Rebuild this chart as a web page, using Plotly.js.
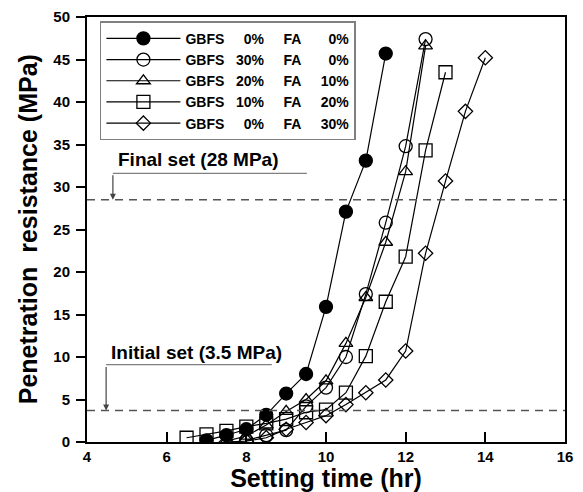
<!DOCTYPE html>
<html>
<head>
<meta charset="utf-8">
<script src="https://cdn.plot.ly/plotly-3.0.1.min.js"></script>
<style>html,body{margin:0;padding:0;background:#fff;}#chart{width:583px;height:492px;}</style>
</head>
<body>
<div id="chart"></div>
<script>
// ---- data ----
var NB = '\u00a0';
var seriesNames = [
  'GBFS' + NB+NB+NB+NB+NB + '0%' + NB+NB+NB+NB+NB + 'FA' + NB+NB+NB+NB+NB+NB+NB + '0%',
  'GBFS' + NB+NB+NB + '30%' + NB+NB+NB+NB+NB + 'FA' + NB+NB+NB+NB+NB+NB+NB + '0%',
  'GBFS' + NB+NB+NB + '20%' + NB+NB+NB+NB+NB + 'FA' + NB+NB+NB+NB+NB + '10%',
  'GBFS' + NB+NB+NB + '10%' + NB+NB+NB+NB+NB + 'FA' + NB+NB+NB+NB+NB + '20%',
  'GBFS' + NB+NB+NB+NB+NB + '0%' + NB+NB+NB+NB+NB + 'FA' + NB+NB+NB+NB+NB + '30%'
];
var x1 = [7, 7.5, 8, 8.5, 9, 9.5, 10, 10.5, 11, 11.5];
var y1 = [0.2, 0.8, 1.5, 3.2, 5.7, 8.0, 15.9, 27.1, 33.1, 45.7];
var x2 = [8, 8.5, 9, 9.5, 10, 10.5, 11, 11.5, 12, 12.5];
var y2 = [0.2, 0.8, 1.4, 4.2, 6.4, 10.0, 17.4, 25.8, 34.8, 47.4];
var x3 = [7.5, 8, 8.5, 9, 9.5, 10, 10.5, 11, 11.5, 12, 12.5];
var y3 = [0.1, 0.7, 2.0, 3.6, 5.0, 7.2, 11.6, 17.0, 23.5, 31.8, 46.6];
var x4 = [6.5, 7, 7.5, 8, 8.5, 9, 9.5, 10, 10.5, 11, 11.5, 12, 12.5, 13];
var y4 = [0.5, 0.9, 1.3, 1.8, 2.2, 2.7, 3.5, 3.8, 5.8, 10.1, 16.5, 21.8, 34.3, 43.5];
var x5 = [7.5, 8, 8.5, 9, 9.5, 10, 10.5, 11, 11.5, 12, 12.5, 13, 13.5, 14];
var y5 = [0.0, 0.1, 0.5, 1.5, 2.3, 3.1, 4.4, 5.8, 7.3, 10.7, 22.2, 30.7, 38.9, 45.2];
var finalSet = 28.5;
var initialSet = 3.7;
var xTicks = [4, 6, 8, 10, 12, 14, 16];
var yTicks = [0, 5, 10, 15, 20, 25, 30, 35, 40, 45, 50];

var FONT = 'Liberation Sans, Arial, Helvetica, sans-serif';
var xs = [x1, x2, x3, x4, x5];
var ys = [y1, y2, y3, y4, y5];
var symbols = ['circle', 'circle-open', 'triangle-up-open', 'square-open', 'diamond-open'];
var sizes = [13, 13, 12, 13, 11];

var traces = xs.map(function (xv, i) {
  return {
    x: xv, y: ys[i], type: 'scatter', mode: 'lines+markers', name: seriesNames[i],
    line: {color: '#000', width: 1.2},
    marker: {symbol: symbols[i], size: sizes[i], color: '#000', line: {color: '#000', width: 1.3}}
  };
});

var grey = '#808080';
var layout = {
  width: 583, height: 492,
  margin: {l: 87, r: 18, t: 17, b: 50},
  paper_bgcolor: '#fff', plot_bgcolor: '#fff',
  font: {family: FONT, color: '#000'},
  showlegend: true,
  legend: {
    x: 0.027, y: 0.99, xanchor: 'left', yanchor: 'top',
    bgcolor: '#fff', bordercolor: grey, borderwidth: 1.5,
    font: {family: FONT, size: 14, weight: 'bold', color: '#000'},
    itemwidth: 74, tracegroupgap: 0
  },
  xaxis: {
    range: [4, 16], tickvals: xTicks, ticktext: xTicks.map(String),
    ticks: 'inside', ticklen: 10, tickwidth: 2, tickcolor: '#000',
    showline: true, linecolor: '#000', linewidth: 2, mirror: true,
    showgrid: false, zeroline: false,
    tickfont: {family: FONT, size: 15, weight: 'bold'},
    title: {text: 'Setting time (hr)', font: {family: FONT, size: 25, weight: 'bold'}, standoff: 4}
  },
  yaxis: {
    range: [0, 50], tickvals: yTicks, ticktext: yTicks.map(String),
    ticks: 'outside', ticklen: 9, tickwidth: 2, tickcolor: '#000',
    showline: true, linecolor: '#000', linewidth: 2, mirror: true,
    showgrid: false, zeroline: false,
    tickfont: {family: FONT, size: 15, weight: 'bold'},
    ticklabelstandoff: 3
  },
  shapes: [
    {type: 'line', xref: 'paper', x0: 0, x1: 1, yref: 'y', y0: finalSet, y1: finalSet,
     line: {color: '#555', width: 1.6, dash: '8px,6px'}},
    {type: 'line', xref: 'paper', x0: 0, x1: 1, yref: 'y', y0: initialSet, y1: initialSet,
     line: {color: '#555', width: 1.6, dash: '8px,6px'}},
    {type: 'line', xref: 'x', yref: 'y', x0: 4.65, x1: 9.52, y0: 31.6, y1: 31.6,
     line: {color: grey, width: 1.2}},
    {type: 'line', xref: 'x', yref: 'y', x0: 4.48, x1: 8.64, y0: 9.1, y1: 9.1,
     line: {color: grey, width: 1.2}}
  ],
  annotations: [
    {xref: 'paper', yref: 'paper', x: -0.124, y: 0.5, xanchor: 'center', yanchor: 'middle',
     text: 'Penetration' + NB + NB + 'resistance (MPa)', textangle: -90, showarrow: false,
     font: {family: FONT, size: 25, weight: 'bold', color: '#000'}},
    {xref: 'x', yref: 'y', x: 4.65, y: finalSet, text: '', showarrow: true,
     axref: 'pixel', ayref: 'pixel', ax: 0, ay: -26, arrowhead: 2, arrowsize: 1,
     arrowwidth: 1.2, arrowcolor: '#444'},
    {xref: 'x', yref: 'y', x: 4.48, y: initialSet, text: '', showarrow: true,
     axref: 'pixel', ayref: 'pixel', ax: 0, ay: -45, arrowhead: 2, arrowsize: 1,
     arrowwidth: 1.2, arrowcolor: '#444'},
    {xref: 'x', yref: 'y', x: 4.72, y: 33.2, xanchor: 'left', yanchor: 'middle',
     text: 'Final set (28 MPa)', showarrow: false,
     font: {family: FONT, size: 19, weight: 'bold', color: '#000'}},
    {xref: 'x', yref: 'y', x: 4.55, y: 10.5, xanchor: 'left', yanchor: 'middle',
     text: 'Initial set (3.5 MPa)', showarrow: false,
     font: {family: FONT, size: 19, weight: 'bold', color: '#000'}}
  ]
};

Plotly.newPlot('chart', traces, layout, {displayModeBar: false, staticPlot: true});
</script>
</body>
</html>
